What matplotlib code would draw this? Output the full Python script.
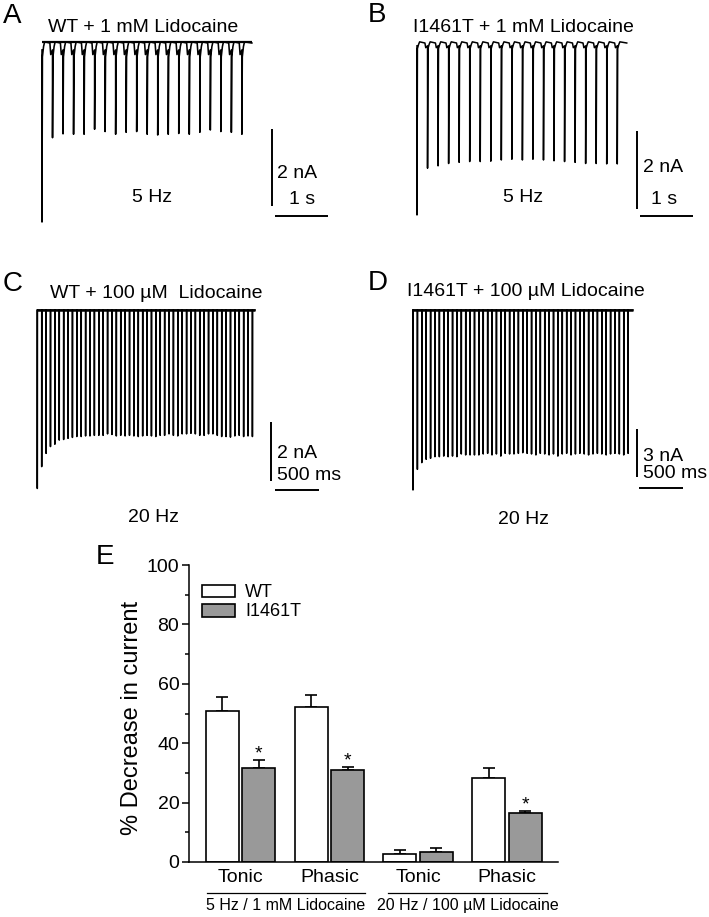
import numpy as np
import matplotlib
matplotlib.use("Agg")
import matplotlib.pyplot as plt
from matplotlib.patches import Patch

plt.rcParams['font.family'] = ['Liberation Sans', 'DejaVu Sans']

# ---------------- data ----------------
# peak inward current amplitudes (nA) of each pulse in the trains
amps_A = [4.65, 2.46, 2.36, 2.37, 2.37, 2.24, 2.30, 2.37, 2.32, 2.30,
          2.37, 2.39, 2.37, 2.35, 2.37, 2.32, 2.26, 2.30, 2.32, 2.37]
amps_B = [4.41, 3.21, 3.15, 3.09, 3.06, 3.04, 3.04, 3.03, 3.00, 2.98,
          3.00, 2.98, 3.00, 3.02, 3.04, 3.06, 3.09, 3.09, 3.10, 3.10]
amps_C = [6.05, 5.31, 4.86, 4.63, 4.55, 4.41, 4.39, 4.35, 4.32, 4.29,
          4.29, 4.27, 4.27, 4.25, 4.25, 4.25, 4.20, 4.22, 4.27, 4.25,
          4.27, 4.25, 4.27, 4.29, 4.27, 4.25, 4.27, 4.29, 4.25, 4.25,
          4.20, 4.25, 4.27, 4.20, 4.20, 4.18, 4.20, 4.25, 4.25, 4.20,
          4.20, 4.25, 4.29, 4.29, 4.31, 4.27, 4.25, 4.29, 4.27, 4.29]
amps_D = [11.25, 9.96, 9.54, 9.33, 9.27, 9.17, 9.17, 9.13, 9.17, 9.13,
          9.17, 9.00, 9.06, 9.06, 9.06, 9.06, 9.00, 8.96, 9.06, 9.00,
          9.13, 8.96, 9.00, 9.00, 8.96, 8.92, 8.96, 9.00, 9.06, 8.96,
          9.00, 9.06, 9.00, 9.13, 9.00, 8.96, 9.06, 9.00, 8.96, 9.00,
          9.06, 9.00, 8.96, 9.00, 9.06, 9.00, 8.96, 9.00, 9.06, 8.96]
period_5hz = 0.2    # s
period_20hz = 0.05  # s

conditions = ["Tonic", "Phasic", "Tonic", "Phasic"]
group_labels = ["5 Hz / 1 mM Lidocaine", "20 Hz / 100 \u00b5M Lidocaine"]
series_names = ["WT", "I1461T"]
wt_mean = [50.9, 52.2, 2.8, 28.3]
wt_err = [4.7, 4.1, 1.3, 3.4]
mut_mean = [31.7, 31.0, 3.5, 16.4]
mut_err = [2.7, 1.1, 1.1, 0.9]
significant = [True, True, False, True]
yticks = [0, 20, 40, 60, 80, 100]

# ---------------- figure ----------------
W, H = 709, 917
fig = plt.figure(figsize=(W / 100, H / 100), dpi=100)


def ftext(px, py, s, **kw):
    fig.text(px / W, 1 - py / H, s, **kw)


def trace_axes(x0, x1, y0, y1, t0px, pps, base, ppn):
    ax = fig.add_axes([x0 / W, 1 - y1 / H, (x1 - x0) / W, (y1 - y0) / H])
    ax.set_xlim((x0 - t0px) / pps, (x1 - t0px) / pps)
    ax.set_ylim(-(y1 - base) / ppn, (base - y0) / ppn)
    ax.axis('off')
    tx = lambda px: (px - t0px) / pps
    iy = lambda py: -(py - base) / ppn
    return ax, tx, iy


def build_trace(amps, period, t_end, notch=0.0):
    xs, ys = [], []
    for i, a in enumerate(amps):
        t = i * period
        if notch > 0:
            if i > 0:
                xs += [t - 0.25 * period, t - 0.17 * period, t - 0.05 * period]
                ys += [0.0, -notch, -0.7 * notch]
            xs += [t, t, t + 0.04 * period, t + 0.15 * period, t + 0.25 * period]
            ys += [-0.6 * notch, -a, -1.2 * notch, -0.3 * notch, 0.03]
        else:
            xs += [t, t, t + 0.02 * period]
            ys += [0.0, -a, 0.0]
    xs.append(t_end)
    ys.append(0.0)
    return np.array(xs), np.array(ys)


def scalebars(ax, tx, iy, vx, vy_top, v_len, hy, hx, h_len):
    ax.plot([tx(vx), tx(vx)], [iy(vy_top), iy(vy_top) - v_len], color='black', lw=1.4,
            solid_capstyle='butt', clip_on=False)
    ax.plot([tx(hx), tx(hx) + h_len], [iy(hy), iy(hy)], color='black', lw=1.4,
            solid_capstyle='butt', clip_on=False)


# ---- Panel A ----
axA, txA, iyA = trace_axes(30, 345, 30, 235, 42, 52.6, 43, 38.5)
x, y = build_trace(amps_A, period_5hz, 3.99, notch=0.3)
axA.plot(x, y, color='black', lw=1.15)
axA.plot([0, 3.99], [0.02, 0.02], color='black', lw=1.6, solid_capstyle='butt')
scalebars(axA, txA, iyA, 272, 129, 2.0, 216, 275, 1.0)
ftext(3, 16, "A", fontsize=20, ha='left', va='center')
ftext(48, 28, "WT + 1 mM Lidocaine", fontsize=14, ha='left', va='center')
ftext(152, 198, "5 Hz", fontsize=14, ha='center', va='center')
ftext(277, 173, "2 nA", fontsize=14, ha='left', va='center')
ftext(302, 200, "1 s", fontsize=14, ha='center', va='center')

# ---- Panel B ----
axB, txB, iyB = trace_axes(400, 705, 30, 235, 417, 52.7, 43, 39.0)
x, y = build_trace(amps_B, period_5hz, 3.98, notch=0.12)
axB.plot(x, y, color='black', lw=1.1)
scalebars(axB, txB, iyB, 637, 131, 2.0, 216, 640, 1.0)
ftext(368, 15, "B", fontsize=20, ha='left', va='center')
ftext(413, 28, "I1461T + 1 mM Lidocaine", fontsize=14, ha='left', va='center')
ftext(523, 197, "5 Hz", fontsize=14, ha='center', va='center')
ftext(643, 167, "2 nA", fontsize=14, ha='left', va='center')
ftext(664, 200, "1 s", fontsize=14, ha='center', va='center')

# ---- Panel C ----
axC, txC, iyC = trace_axes(25, 345, 300, 500, 37.3, 87.8, 310, 29.5)
x, y = build_trace(amps_C, period_20hz, 2.48)
axC.plot(x, y, color='black', lw=1.1)
axC.plot([0, 2.48], [0, 0], color='black', lw=1.8, solid_capstyle='butt')
scalebars(axC, txC, iyC, 271, 422, 2.0, 490, 275, 0.5)
ftext(3, 284, "C", fontsize=20, ha='left', va='center')
ftext(50, 293, "WT + 100 \u00b5M  Lidocaine", fontsize=14, ha='left', va='center')
ftext(277, 453, "2 nA", fontsize=14, ha='left', va='center')
ftext(277, 475, "500 ms", fontsize=14, ha='left', va='center')
ftext(153, 517, "20 Hz", fontsize=14, ha='center', va='center')

# ---- Panel D ----
axD, txD, iyD = trace_axes(400, 705, 300, 500, 413, 87.8, 310, 16.0)
x, y = build_trace(amps_D, period_20hz, 2.505)
axD.plot(x, y, color='black', lw=1.1)
axD.plot([0, 2.505], [0, 0], color='black', lw=1.8, solid_capstyle='butt')
scalebars(axD, txD, iyD, 637, 429, 3.0, 488, 639, 0.5)
ftext(368, 283, "D", fontsize=20, ha='left', va='center')
ftext(407, 292, "I1461T + 100 \u00b5M Lidocaine", fontsize=14, ha='left', va='center')
ftext(643, 456, "3 nA", fontsize=14, ha='left', va='center')
ftext(643, 474, "500 ms", fontsize=14, ha='left', va='center')
ftext(523, 520, "20 Hz", fontsize=14, ha='center', va='center')

# ---- Panel E ----
ax_l, ax_r, ax_t, ax_b = 189, 558, 565, 862
axE = fig.add_axes([ax_l / W, 1 - ax_b / H, (ax_r - ax_l) / W, (ax_b - ax_t) / H])
pos = np.arange(len(conditions))
off = 0.205
bw = 0.37
axE.bar(pos - off, wt_mean, bw, color='white', edgecolor='black', linewidth=1.2, zorder=2)
axE.bar(pos + off, mut_mean, bw, color='#999999', edgecolor='black', linewidth=1.2, zorder=2)
axE.errorbar(pos - off, wt_mean, yerr=[np.zeros(len(wt_err)), wt_err], fmt='none',
             ecolor='black', elinewidth=1.2, capsize=4, capthick=1.2, zorder=1)
axE.errorbar(pos + off, mut_mean, yerr=[np.zeros(len(mut_err)), mut_err], fmt='none',
             ecolor='black', elinewidth=1.2, capsize=4, capthick=1.2, zorder=1)
for p, m, e, s in zip(pos, mut_mean, mut_err, significant):
    if s:
        axE.annotate("*", (p + off, m + e), xytext=(0, 4), textcoords='offset points',
                     ha='center', va='center', fontsize=14)

axE.set_ylim(0, 100)
axE.set_xlim(-0.58, 3.575)
axE.set_yticks(yticks)
axE.set_yticks(np.arange(10, 100, 20), minor=True)
axE.set_xticks(pos)
axE.set_xticklabels(conditions, fontsize=14)
axE.tick_params(axis='x', length=0, pad=5)
axE.tick_params(axis='y', which='major', length=5, width=1.1, labelsize=14, pad=2)
axE.tick_params(axis='y', which='minor', length=3, width=1.1)
for s in ['top', 'right']:
    axE.spines[s].set_visible(False)
for s in ['left', 'bottom']:
    axE.spines[s].set_linewidth(1.1)
axE.set_ylabel("% Decrease in current", fontsize=17)
axE.yaxis.set_label_coords(-0.125, 0.4865)

trans = axE.get_xaxis_transform()
for (x0, x1), lab in zip([(-0.381, 1.402), (1.661, 3.452)], group_labels):
    axE.plot([x0, x1], [-0.105, -0.105], color='black', lw=0.9, transform=trans, clip_on=False)
    axE.text((x0 + x1) / 2, -0.147, lab, transform=trans, ha='center', va='center', fontsize=11.5)

handles = [Patch(facecolor='white', edgecolor='black', linewidth=1.2),
           Patch(facecolor='#999999', edgecolor='black', linewidth=1.2)]
axE.legend(handles, series_names, loc='upper left', bbox_to_anchor=(0.035, 0.935),
           frameon=False, fontsize=13, handlelength=1.85, handleheight=0.72,
           handletextpad=0.55, labelspacing=0.12, borderpad=0, borderaxespad=0)

ftext(96, 557, "E", fontsize=20, ha='left', va='center')

fig.savefig("out.png", dpi=100)
